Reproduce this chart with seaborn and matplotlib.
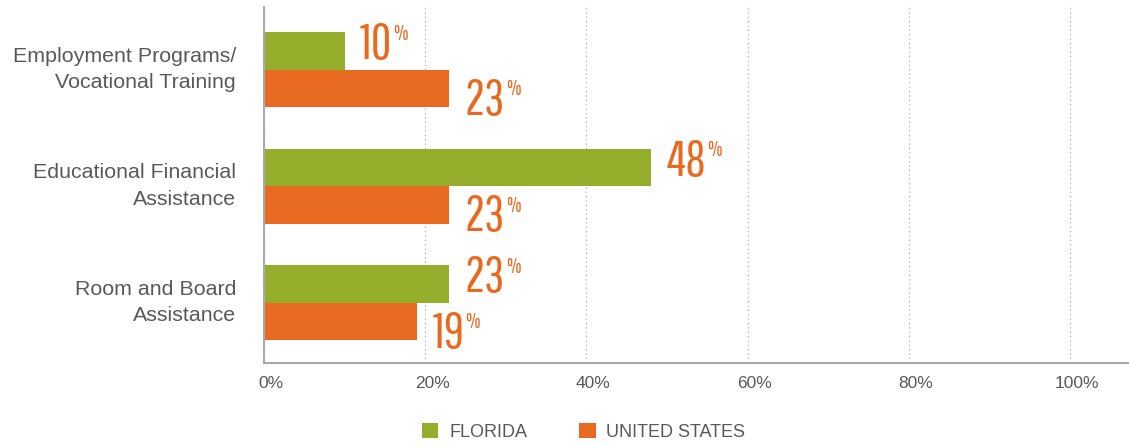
import matplotlib

matplotlib.use("Agg")
import matplotlib.pyplot as plt
from matplotlib.transforms import ScaledTranslation
import pandas as pd
import seaborn as sns

# data
categories = [
    "Employment Programs/\nVocational Training",
    "Educational Financial\nAssistance",
    "Room and Board\nAssistance",
]
regions = ["FLORIDA", "UNITED STATES"]
florida = [10, 48, 23]
united_states = [23, 23, 19]
x_ticks = [0, 20, 40, 60, 80, 100]
x_tick_labels = ["0%", "20%", "40%", "60%", "80%", "100%"]

GREEN = "#94ae2b"
ORANGE = "#e86a20"
GREY_TXT = "#58595b"
GREY_AX = "#a7a9ac"

sns.set_theme(style="white")
plt.rcParams["font.family"] = ["Liberation Sans", "DejaVu Sans"]

df = pd.DataFrame({
    "category": categories * 2,
    "value": florida + united_states,
    "region": [regions[0]] * 3 + [regions[1]] * 3,
})

fig = plt.figure(figsize=(11.29, 4.46), dpi=100)
ax = fig.add_axes([264 / 1129, 1 - 363 / 446, 1 - 264 / 1129, (363 - 7) / 446])

sns.barplot(data=df, y="category", x="value", hue="region", orient="h",
            palette=[GREEN, ORANGE], saturation=1, width=0.644,
            linewidth=0, ax=ax)

ax.set_xlim(0, 107.3)
ax.set_ylim(2.52, -0.54)
ax.set_xticks(x_ticks)
ax.set_xticklabels(x_tick_labels)
ax.set_yticks(range(len(categories)))
ax.set_yticklabels(categories, linespacing=1.5)
ax.set_xlabel("")
ax.set_ylabel("")

ax.xaxis.grid(True, linestyle=(0, (1, 2.5)), color="#b3b3b3", linewidth=0.9)
ax.set_axisbelow(True)
for side in ["top", "right"]:
    ax.spines[side].set_visible(False)
for side in ["left", "bottom"]:
    ax.spines[side].set_color(GREY_AX)
    ax.spines[side].set_linewidth(1.5)

ax.tick_params(axis="x", length=0, pad=9, labelsize=12.5, labelcolor=GREY_TXT)
ax.tick_params(axis="y", length=0, pad=20, labelsize=15.4, labelcolor=GREY_TXT)
for lab in ax.get_xticklabels():
    lab.set_transform(lab.get_transform() + ScaledTranslation(0.07, 0, fig.dpi_scale_trans))
for lab in ax.get_yticklabels():
    lab.set_transform(lab.get_transform() + ScaledTranslation(0, 0.06, fig.dpi_scale_trans))

# tall condensed value labels with a small raised percent sign
num_font = ["Pathway Gothic One", "Oswald", "League Gothic", "Antonio",
            "IBM Plex Sans Condensed", "Liberation Sans"]
for series, shift, dy in [(florida, -0.161, -6), (united_states, 0.161, -19)]:
    for j, v in enumerate(series):
        t = ax.annotate(str(v), xy=(v, j + shift), xytext=(11, dy),
                        textcoords="offset points", ha="left", va="baseline",
                        fontsize=36, family=num_font, color=ORANGE)
        ax.annotate("%", xy=(1, j + shift), xycoords=(t, "data"),
                    xytext=(0.5, dy + 14), textcoords="offset points",
                    ha="left", va="baseline", fontsize=15,
                    family=num_font, color=ORANGE)

sns.move_legend(ax, "center", bbox_to_anchor=(0.517, 0.031),
                bbox_transform=fig.transFigure, ncol=2, frameon=False,
                title=None, fontsize=13, handlelength=0.9, handleheight=0.9,
                handletextpad=0.6, columnspacing=2.9)
for txt in ax.get_legend().get_texts():
    txt.set_color(GREY_TXT)

fig.savefig("out.png", dpi=100)
